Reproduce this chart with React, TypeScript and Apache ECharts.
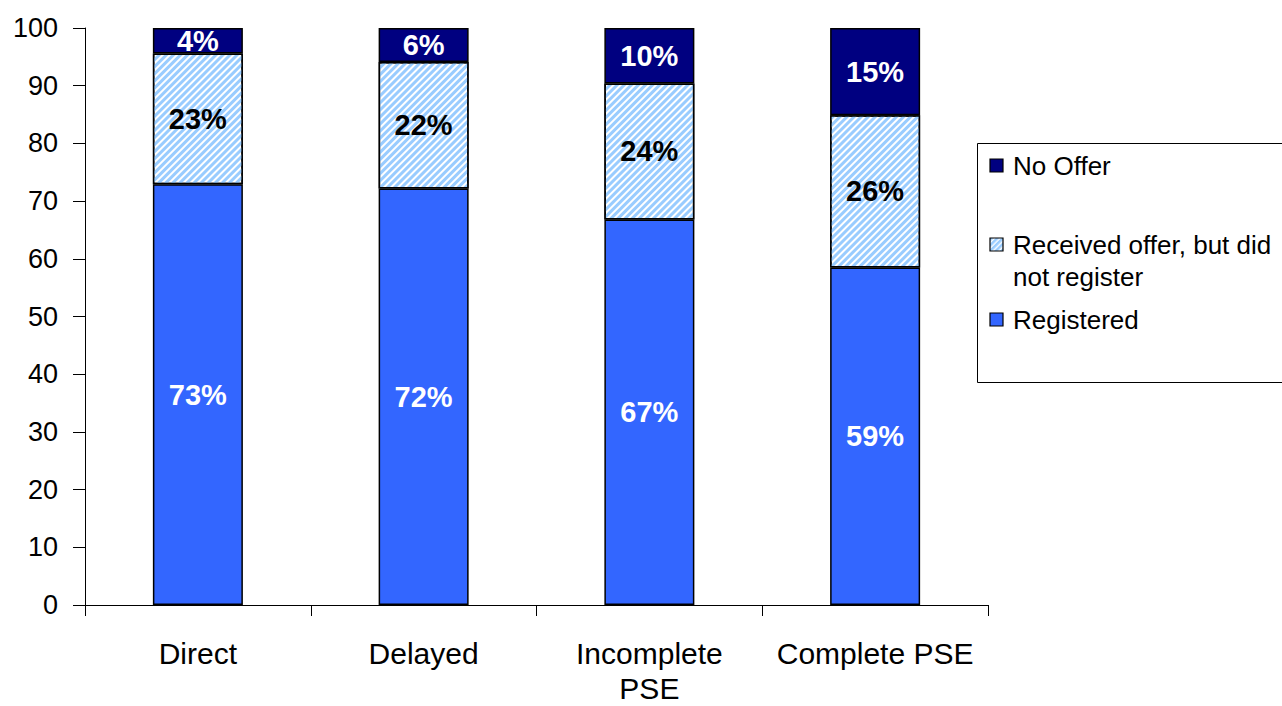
import React, { useEffect, useRef } from "react";
import * as echarts from "echarts";

const categories = ["Direct", "Delayed", "Incomplete\nPSE", "Complete PSE"];
const seriesNames = ["Registered", "Received offer, but did\nnot register", "No Offer"];
const registered = [72.9, 72.2, 66.8, 58.5];
const received = [22.7, 21.9, 23.6, 26.4];
const noOffer = [4.4, 5.9, 9.6, 15.1];
const yTicks = { min: 0, max: 100, interval: 10 };

const NAVY = "#000080";
const BLUE = "#3366FF";
const HATCH = "#99CCFF";
const FONT = "'Liberation Sans', Arial, sans-serif";

const hatchSvg =
  "<svg xmlns='http://www.w3.org/2000/svg' width='13' height='13'>" +
  "<defs><pattern id='p' width='4' height='4' patternUnits='userSpaceOnUse' patternTransform='rotate(-45)'>" +
  "<rect width='4' height='4' fill='white'/><rect width='4' height='2.6' fill='" + HATCH + "'/></pattern></defs>" +
  "<rect width='13' height='13' fill='url(#p)'/></svg>";
const hatchUrl = "data:image/svg+xml;charset=utf-8," + encodeURIComponent(hatchSvg);

export default function App() {
  const ref = useRef<HTMLDivElement>(null);
  useEffect(() => {
    if (!ref.current) return;
    const chart = echarts.init(ref.current, null, { renderer: "svg" });
    const label = (color: string) => ({
      show: true,
      position: "inside",
      formatter: (p: any) => Math.round(p.value) + "%",
      color,
      fontWeight: "bold",
      fontSize: 29,
      fontFamily: FONT,
    });
    const border = { borderColor: "#000", borderWidth: 1.5 };
    const legendItems = [
      { name: seriesNames[2], y: 166, kind: "navy" },
      { name: seriesNames[1], y: 245, kind: "hatch" },
      { name: seriesNames[0], y: 320, kind: "blue" },
    ];
    const legendEls: any[] = [
      {
        type: "rect",
        shape: { x: 977.5, y: 143.5, width: 400, height: 239 },
        style: { fill: "#fff", stroke: "#000", lineWidth: 1 },
      },
    ];
    legendItems.forEach((it) => {
      if (it.kind === "hatch") {
        legendEls.push({
          type: "image",
          style: { image: hatchUrl, x: 990, y: it.y - 7, width: 13, height: 13 },
        });
        legendEls.push({
          type: "rect",
          shape: { x: 990, y: it.y - 7, width: 13, height: 13 },
          style: { fill: "none", stroke: "#000", lineWidth: 1.2 },
        });
      } else {
        legendEls.push({
          type: "rect",
          shape: { x: 990, y: it.y - 7, width: 13, height: 13 },
          style: { fill: it.kind === "navy" ? NAVY : BLUE, stroke: "#000", lineWidth: 1.2 },
        });
      }
      legendEls.push({
        type: "text",
        style: {
          text: it.name,
          x: 1013,
          y: it.y - 16,
          fill: "#000",
          font: "26px " + FONT,
          lineHeight: 32,
          verticalAlign: "top",
        },
      });
    });

    chart.setOption({
      animation: false,
      backgroundColor: "#fff",
      grid: { left: 85, right: 294, top: 28, bottom: 97 },
      xAxis: {
        type: "category",
        data: categories,
        axisLine: { lineStyle: { color: "#000", width: 1 } },
        axisTick: { show: true, length: 11, lineStyle: { color: "#000" } },
        axisLabel: { color: "#000", fontSize: 30, lineHeight: 35, margin: 31, fontFamily: FONT, interval: 0 },
      },
      yAxis: {
        type: "value",
        min: yTicks.min,
        max: yTicks.max,
        interval: yTicks.interval,
        axisLine: { show: true, lineStyle: { color: "#000", width: 1 } },
        axisTick: { show: true, length: 12, lineStyle: { color: "#000" } },
        splitLine: { show: false },
        axisLabel: { color: "#000", fontSize: 27, margin: 27, fontFamily: FONT },
      },
      series: [
        {
          name: seriesNames[0],
          type: "bar",
          stack: "s",
          barWidth: 90,
          data: registered,
          itemStyle: { color: BLUE, ...border },
          label: label("#fff"),
        },
        {
          name: seriesNames[1],
          type: "bar",
          stack: "s",
          barWidth: 90,
          data: received,
          itemStyle: {
            color: "#fff",
            ...border,
            decal: {
              symbol: "rect",
              symbolSize: 1,
              dashArrayX: [1, 0],
              dashArrayY: [2.6, 1.6],
              rotation: -Math.PI / 4,
              color: HATCH,
              backgroundColor: "#fff",
            },
          },
          label: label("#000"),
        },
        {
          name: seriesNames[2],
          type: "bar",
          stack: "s",
          barWidth: 90,
          data: noOffer,
          itemStyle: { color: NAVY, ...border },
          label: label("#fff"),
        },
      ],
      graphic: legendEls,
    });
    return () => chart.dispose();
  }, []);
  return (
    <div
      ref={ref}
      style={{ position: "fixed", left: 0, top: 0, width: 1282, height: 706, background: "#fff" }}
    />
  );
}
